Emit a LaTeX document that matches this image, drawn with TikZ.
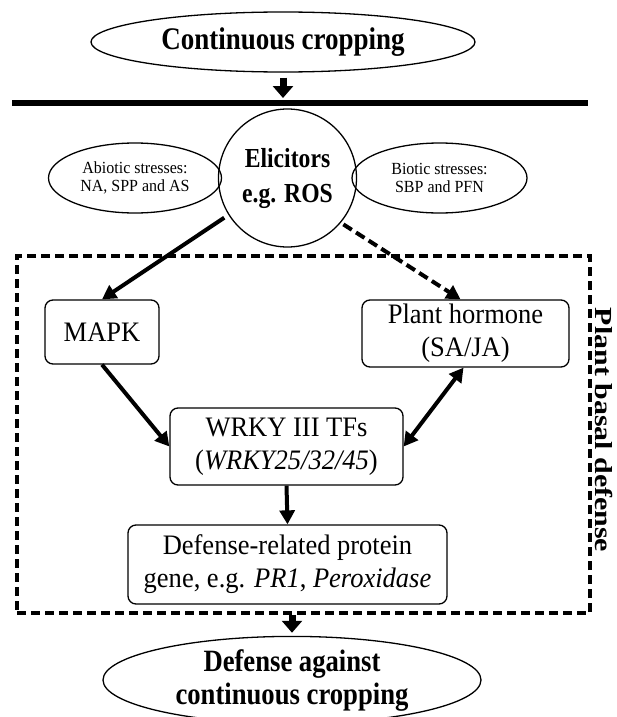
\documentclass[tikz,border=0pt]{standalone}
\usepackage{fontspec}
\setmainfont[FakeStretch=0.94]{Liberation Serif}
\newfontfamily\boldfam[FakeStretch=0.86]{Liberation Serif Bold}
\newfontfamily\vfont[FakeStretch=1.22]{Liberation Serif Bold}
\usetikzlibrary{arrows.meta,shapes.geometric,calc}
\begin{document}
\begin{tikzpicture}[x=1pt,y=-1pt,
  shapeline/.style={draw, line width=1.3pt},
  oval/.style={shapeline, ellipse, inner sep=0pt, align=center},
  rbox/.style={shapeline, rectangle, rounded corners=8pt, inner sep=0pt, align=center,
               font=\fontsize{28.2}{33}\selectfont},
  blockarrow/.style={line width=7pt, -{Triangle[width=20pt,length=12pt]}},
  flowarrow/.style={line width=4pt, -{Triangle[width=15pt,length=14pt]}},
  bothtip/.style={line width=4pt, {Triangle[width=15pt,length=14pt]}-{Triangle[width=15pt,length=14pt]}},
]
\fill[white] (0,0) rectangle (616,717);
\useasboundingbox (0,0) rectangle (616,717);

% dashed frame
\node[draw, line width=3.5pt, dash pattern=on 9pt off 5pt, rectangle, inner sep=0pt,
      minimum width=573pt, minimum height=357pt] (pbd) at (303.5,434.5) {};
\node[rotate=-90, inner sep=0pt, font=\fontsize{24.5}{30}\selectfont] (pbdlabel) at (604,430)
      {\vfont Plant basal defense};

% top
\node[oval, minimum width=384pt, minimum height=60pt, font=\fontsize{31.4}{32}\selectfont\boldfam]
      (cc) at (283,42) {Continuous cropping};
\coordinate (hlL) at (12,103);
\coordinate (hlR) at (588,103);
\draw[line width=6pt] (hlL) -- (hlR);
\draw[blockarrow, shorten <=5pt, shorten >=5pt] (cc.south) -- (cc.south |- hlL);

% elicitors
\node[shapeline, circle, minimum size=138pt, inner sep=0pt, align=center,
      font=\fontsize{27.5}{35}\selectfont\boldfam] (el) at (287.5,178) {Elicitors\\e.g. ROS};
\node[oval, minimum width=173pt, minimum height=70pt, font=\fontsize{17}{18.5}\selectfont]
      (ab) at (135,178) {Abiotic stresses:\\NA, SPP and AS};
\node[oval, minimum width=175pt, minimum height=70pt, font=\fontsize{17}{18.5}\selectfont]
      (bi) at (439.5,178) {Biotic stresses:\\SBP and PFN};

% boxes
\node[rbox, minimum width=114pt, minimum height=64pt] (mapk) at (102,332) {MAPK};
\node[rbox, minimum width=207pt, minimum height=67pt] (ph) at (465.5,333.5) {Plant hormone\\(SA/JA)};
\node[rbox, minimum width=233pt, minimum height=77pt] (wrky) at (286.5,446.5)
      {WRKY III TFs\\(\textit{WRKY25/32/45})};
\node[rbox, minimum width=319pt, minimum height=79pt] (def) at (287.5,564.5)
      {Defense-related protein\\gene, e.g. \textit{PR1}, \textit{Peroxidase}};

% bottom
\node[oval, minimum width=378pt, minimum height=78pt, font=\fontsize{31}{33}\selectfont\boldfam]
      (dac) at (292,680) {Defense against\\continuous cropping};

% connectors
\draw[flowarrow, shorten <=5pt] (el.212) -- (mapk.north);
\draw[flowarrow, dash pattern=on 10pt off 5pt, shorten <=3pt] (el.320) -- ([xshift=-5pt]ph.north);
\draw[flowarrow] (mapk.south) -- (wrky.west);
\draw[bothtip] ([xshift=-2pt]ph.south) -- (wrky.east);
\draw[flowarrow] (wrky.south) -- (def.north);
\draw[blockarrow, shorten >=3pt] (dac.north |- pbd.south) -- (dac.north);
\end{tikzpicture}
\end{document}
